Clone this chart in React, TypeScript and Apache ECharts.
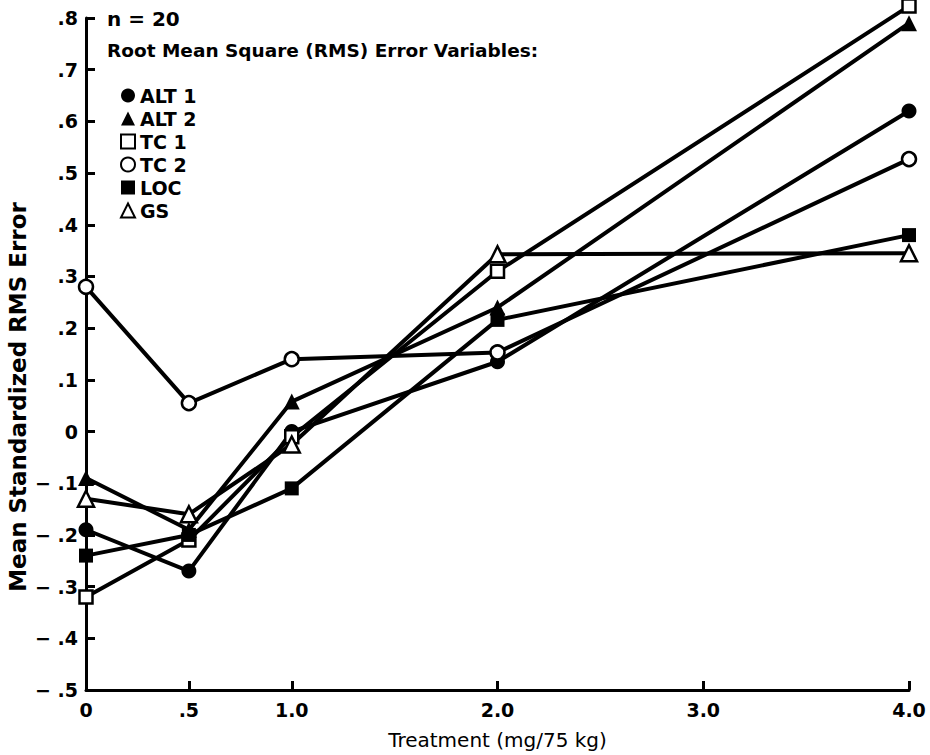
import React, { useEffect, useRef } from "react";
import * as echarts from "echarts";

const xValues = [0, 0.5, 1.0, 2.0, 4.0];
const alt1 = [-0.19, -0.27, 0.0, 0.135, 0.62];
const alt2 = [-0.09, -0.19, 0.058, 0.24, 0.79];
const tc1 = [-0.32, -0.21, -0.01, 0.31, 0.823];
const tc2 = [0.28, 0.055, 0.14, 0.153, 0.527];
const loc = [-0.24, -0.2, -0.11, 0.216, 0.38];
const gs = [-0.13, -0.16, -0.025, 0.343, 0.345];

const seriesNames = ["ALT 1", "ALT 2", "TC 1", "TC 2", "LOC", "GS"];
const xTickValues = [0, 0.5, 1, 2, 3, 4];

const FONT = "DejaVu Sans, Liberation Sans, Arial, sans-serif";

export default function App() {
  const ref = useRef<HTMLDivElement>(null);
  useEffect(() => {
    document.body.style.margin = "0";
    if (!ref.current) return;
    const chart = echarts.init(ref.current, null, { renderer: "svg" });
    const zip = (ys: number[]) => xValues.map((x, i) => [x, ys[i]]);
    const filled = { color: "#000", borderColor: "#000", borderWidth: 0 };
    const open = { color: "#fff", borderColor: "#000", borderWidth: 2.5 };
    const defs = [
      { name: seriesNames[0], data: alt1, symbol: "circle", size: 15, st: filled },
      { name: seriesNames[1], data: alt2, symbol: "triangle", size: 16, st: filled },
      { name: seriesNames[2], data: tc1, symbol: "rect", size: 13, st: open },
      { name: seriesNames[3], data: tc2, symbol: "circle", size: 14, st: open },
      { name: seriesNames[4], data: loc, symbol: "rect", size: 14, st: filled },
      { name: seriesNames[5], data: gs, symbol: "triangle", size: 16, st: open },
    ];
    const yFmt = (v: number) => {
      if (Math.abs(v) < 1e-9) return "0";
      const s = Math.abs(v).toFixed(1).replace(/^0/, "");
      return v < 0 ? "\u2212 " + s : s;
    };
    const xFmt = (v: number) => {
      if (Math.abs(v) < 1e-9) return "0";
      if (Math.abs(v - 0.5) < 1e-9) return ".5";
      return v.toFixed(1);
    };
    chart.setOption({
      animation: false,
      backgroundColor: "#fff",
      grid: { left: 86, right: 21, top: 18, bottom: 62 },
      xAxis: {
        type: "value",
        min: 0,
        max: 4,
        interval: 0.5,
        name: "Treatment (mg/75 kg)",
        nameLocation: "middle",
        nameGap: 40,
        nameTextStyle: { fontFamily: FONT, fontSize: 20, color: "#000" },
        axisLine: { show: true, onZero: false, lineStyle: { color: "#000", width: 3 } },
        axisTick: {
          show: true,
          inside: true,
          length: 9,
          customValues: xTickValues,
          lineStyle: { color: "#000", width: 3 },
        },
        axisLabel: {
          customValues: xTickValues,
          formatter: xFmt,
          fontFamily: FONT,
          fontSize: 19,
          fontWeight: "bold",
          color: "#000",
          margin: 10,
        },
        splitLine: { show: false },
      },
      yAxis: {
        type: "value",
        min: -0.5,
        max: 0.8,
        interval: 0.1,
        axisLine: { show: true, onZero: false, lineStyle: { color: "#000", width: 3 } },
        axisTick: { show: true, inside: true, length: 9, lineStyle: { color: "#000", width: 3 } },
        axisLabel: {
          formatter: yFmt,
          fontFamily: FONT,
          fontSize: 19,
          fontWeight: "bold",
          color: "#000",
          margin: 8,
        },
        splitLine: { show: false },
      },
      legend: {
        orient: "vertical",
        left: 115,
        top: 81,
        itemWidth: 14,
        itemHeight: 14,
        itemGap: 4,
        textStyle: { fontFamily: FONT, fontSize: 19, fontWeight: "bold", color: "#000" },
        data: defs.map((d) => ({
          name: d.name,
          icon: d.symbol,
          itemStyle: { ...d.st, borderWidth: d.st === open ? 2 : 0 },
        })),
      },
      graphic: [
        {
          type: "text",
          left: 107,
          top: 9,
          style: { text: "n = 20", fontFamily: FONT, fontSize: 20, fontWeight: "bold", fill: "#000" },
        },
        {
          type: "text",
          left: 107,
          top: 41,
          style: {
            text: "Root Mean Square (RMS) Error Variables:",
            fontFamily: FONT,
            fontSize: 18.5,
            fontWeight: "bold",
            fill: "#000",
          },
        },
        {
          type: "text",
          x: 18,
          y: 397,
          rotation: Math.PI / 2,
          style: {
            text: "Mean Standardized RMS Error",
            fontFamily: FONT,
            fontSize: 23,
            fontWeight: "bold",
            fill: "#000",
            align: "center",
            verticalAlign: "middle",
          },
        },
      ],
      series: defs.map((d) => ({
        name: d.name,
        type: "line",
        data: zip(d.data),
        symbol: d.symbol,
        symbolSize: d.size,
        showAllSymbol: true,
        clip: false,
        lineStyle: { color: "#000", width: 4 },
        itemStyle: d.st,
        emphasis: { disabled: true },
      })),
    });
    return () => chart.dispose();
  }, []);
  return <div ref={ref} style={{ width: 930, height: 755 }} />;
}
